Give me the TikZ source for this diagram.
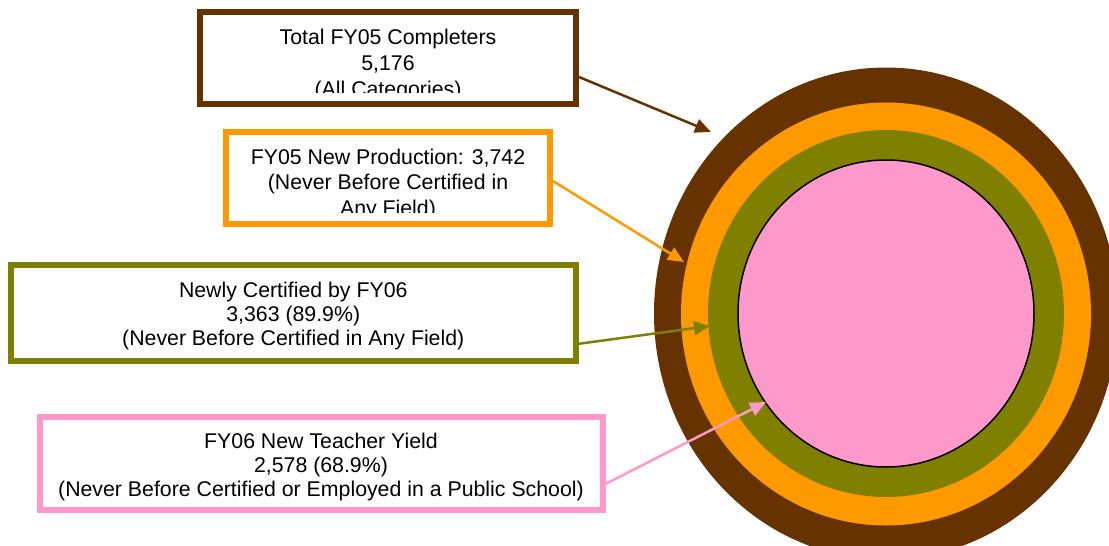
\documentclass[tikz,border=0pt]{standalone}
\usepackage{fontspec}
\setmainfont{Liberation Sans}
\usetikzlibrary{arrows.meta}
\definecolor{cbrown}{HTML}{663300}
\definecolor{corange}{HTML}{FF9900}
\definecolor{colive}{HTML}{808000}
\definecolor{cpink}{HTML}{FF99CC}
\tikzset{
  boxnode/.style={rectangle, draw, line width=6pt, fill=white, inner sep=0pt},
  lbl/.style={anchor=base, inner sep=0pt, font=\fontsize{21.3pt}{25pt}\selectfont},
  arr/.style={line width=2.5pt, -{Triangle[length=16pt,width=14pt]}}
}
\begin{document}
\begin{tikzpicture}[x=1pt,y=-1pt]
\useasboundingbox (0,0) rectangle (1109,546);
\clip (0,0) rectangle (1109,546);
% rings
\fill[cbrown] (886,313.5) ellipse [x radius=232pt, y radius=246pt];
\fill[corange] (886,314) ellipse [x radius=205pt, y radius=211.5pt];
\fill[colive] (886,313.5) ellipse [x radius=178pt, y radius=183.5pt];
\filldraw[fill=cpink, draw=black, line width=1.5pt] (886,313.5) ellipse [x radius=148pt, y radius=153.5pt];
% arrow targets
\coordinate (p1) at (711,132);
\coordinate (p2) at (684,262);
\coordinate (p3) at (710,326);
\coordinate (p4) at (766,402);
% boxes
\node[boxnode, draw=cbrown, minimum width=376pt, minimum height=92pt] (b1) at (388,58) {};
\node[boxnode, draw=corange, minimum width=324pt, minimum height=92pt] (b2) at (388,178) {};
\node[boxnode, draw=colive, minimum width=565.5pt, minimum height=96.5pt] (b3) at (293.25,312.75) {};
\node[boxnode, draw=cpink, minimum width=563pt, minimum height=93pt] (b4) at (321,463.5) {};
% texts
\begin{scope}
\clip (203,15) rectangle (573,92);
\node[lbl] (t1a) at (388,44) {Total FY05 Completers};
\node[lbl] (t1b) at (388,70) {5,176};
\node[lbl] (t1c) at (388,96) {(All Categories)};
\end{scope}
\begin{scope}
\clip (229,135) rectangle (547,212);
\node[lbl] (t2a) at (388,164) {FY05 New Production: 3,742};
\node[lbl] (t2b) at (388,189.5) {(Never Before Certified in};
\node[lbl] (t2c) at (388,215) {Any Field)};
\end{scope}
\node[lbl] (t3a) at (293.25,297) {Newly Certified by FY06};
\node[lbl] (t3b) at (293.25,321) {3,363 (89.9\%)};
\node[lbl] (t3c) at (293.25,345) {(Never Before Certified in Any Field)};
\node[lbl] (t4a) at (321,448) {FY06 New Teacher Yield};
\node[lbl] (t4b) at (321,472) {2,578 (68.9\%)};
\node[lbl] (t4c) at (321,496) {(Never Before Certified or Employed in a Public School)};
% connectors
\draw[arr, cbrown] ([yshift=-19pt]b1.east) -- (p1);
\draw[arr, corange] ([yshift=-3pt]b2.east) -- (p2);
\draw[arr, colive] ([yshift=-31pt]b3.east) -- (p3);
\draw[arr, cpink] ([yshift=-20.5pt]b4.east) -- (p4);
\end{tikzpicture}
\end{document}
